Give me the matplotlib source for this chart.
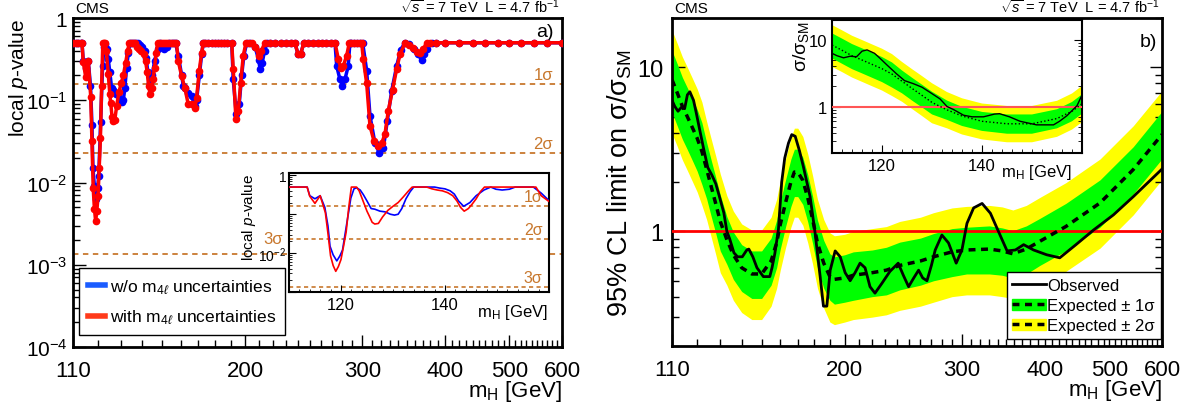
import numpy as np
import matplotlib
matplotlib.use("Agg")
import matplotlib.pyplot as plt
from matplotlib.lines import Line2D
from matplotlib.patches import Patch
from matplotlib.ticker import FixedLocator, FixedFormatter, LogLocator, NullFormatter

plt.rcParams['font.family'] = ['Liberation Sans', 'DejaVu Sans']
plt.rcParams['mathtext.fontset'] = 'custom'
plt.rcParams['mathtext.rm'] = 'Liberation Sans'
plt.rcParams['mathtext.it'] = 'Liberation Sans:italic'
plt.rcParams['mathtext.sf'] = 'Liberation Sans'

# ---- a) local p-value, with m4l uncertainties (red)
mass_red = [110, 111, 112, 113, 113.5, 114, 115, 116, 117, 117.5, 118, 118.5, 119, 119.5, 120,
            120.5, 121, 121.5, 122, 122.5, 123, 123.5, 124.3, 125, 125.4, 126, 126.5, 127.2, 128,
            129, 130, 131, 132, 133, 133.7, 134.5, 135.5, 136.5, 137.5, 138.5, 139.5, 140.5, 141.5,
            142.3, 143, 143.7, 144.5, 145.2, 146, 146.8, 147.6, 149, 150, 151, 152, 153, 154, 155,
            156, 157.5, 158.5, 160.4, 162.2, 164.1, 166, 168, 168.9, 170.5, 171.9, 172.9, 174, 176,
            178, 180, 182, 184, 186, 188, 190.8, 191.8, 193.6, 195.2, 196.8, 198.6, 200.5, 202.5,
            204.5, 207, 209.5, 211.5, 214, 218, 222, 226, 230, 234, 237.5, 240, 242.5, 245, 249,
            253, 257, 261, 265, 269, 273, 276.1, 278.4, 280.9, 284.3, 286.9, 289, 292, 295, 298,
            299.5, 301.1, 304.7, 308.2, 312.5, 317.2, 321, 324.7, 328.4, 333.4, 338.1, 342, 348,
            353, 358, 363, 366.6, 371, 375, 380, 388, 400, 420, 440, 460, 480, 500, 520, 545, 570,
            600]
p_red = [0.5, 0.5, 0.5, 0.5, 0.5, 0.29, 0.19, 0.30, 0.11, 0.032, 0.0085, 0.0048, 0.0034, 0.0045, 0.0068,
         0.015, 0.035, 0.15, 0.5, 0.5, 0.5, 0.40, 0.21, 0.12, 0.093, 0.062, 0.056, 0.058, 0.085,
         0.125, 0.16, 0.20, 0.28, 0.40, 0.5, 0.5, 0.5, 0.5, 0.45, 0.42, 0.40, 0.36, 0.30,
         0.22, 0.15, 0.12, 0.14, 0.18, 0.25, 0.38, 0.5, 0.5, 0.5, 0.5, 0.5, 0.5, 0.5, 0.5,
         0.5, 0.5, 0.30, 0.195, 0.14, 0.089, 0.089, 0.081, 0.107, 0.23, 0.38, 0.5, 0.5, 0.5,
         0.5, 0.5, 0.5, 0.5, 0.5, 0.5, 0.5, 0.24, 0.059, 0.074, 0.16, 0.35, 0.5, 0.5,
         0.5, 0.45, 0.35, 0.40, 0.5, 0.5, 0.5, 0.5, 0.5, 0.5, 0.5, 0.37, 0.37, 0.5, 0.5,
         0.5, 0.5, 0.5, 0.5, 0.5, 0.5, 0.32, 0.25, 0.26, 0.35, 0.5, 0.5, 0.5, 0.5, 0.5,
         0.5, 0.32, 0.16, 0.049, 0.032, 0.028, 0.030, 0.039, 0.074, 0.135, 0.24, 0.36, 0.5,
         0.47, 0.43, 0.39, 0.38, 0.42, 0.5, 0.5, 0.5, 0.5, 0.5, 0.5, 0.5, 0.5, 0.5, 0.5, 0.5, 0.5,
         0.5]

# ---- a) local p-value, without m4l uncertainties (blue)
mass_blue = [110, 111, 112, 113, 113.5, 114, 115, 116, 116.9, 117.5, 117.9, 118.5, 119.2, 119.8,
             120.3, 121.1, 121.9, 122.5, 123, 123.7, 124.3, 125, 125.8, 126.5, 127.5, 128.5, 129.5,
             130.3, 131, 131.7, 132.5, 133.3, 134, 135, 136, 137, 138, 139, 140, 141, 141.8, 142.6,
             143.6, 144.8, 146, 147.5, 148.8, 149.8, 151, 152.4, 153.5, 155, 156, 157, 158.5, 160.4,
             161.3, 162.2, 164.1, 166, 168, 168.9, 170.5, 171.9, 172.9, 174, 176, 178, 180, 182, 184,
             186, 188, 190.8, 191.8, 193.8, 195.8, 197.5, 199, 201, 203.3, 206.8, 209.5, 210.5, 212,
             213.8, 215.5, 218, 222, 226, 230, 234, 237.5, 240, 242.5, 245, 249, 253, 257, 261, 265,
             269, 273, 274.6, 277.7, 280, 282.6, 285.8, 287.5, 289, 292, 295, 298, 300.5, 304.7,
             308.2, 313.6, 318.3, 322.8, 327.3, 332.3, 338.1, 342.8, 348, 353, 359.5, 364, 368.8,
             372, 375.2, 381.7, 388, 400, 420, 440, 460, 480, 500, 520, 545, 570, 600]
p_blue = [0.5, 0.5, 0.5, 0.5, 0.5, 0.30, 0.25, 0.30, 0.15, 0.05, 0.015, 0.009, 0.0063, 0.0085,
          0.012, 0.055, 0.26, 0.45, 0.48, 0.42, 0.32, 0.22, 0.14, 0.135, 0.12, 0.115, 0.10,
          0.095, 0.10, 0.14, 0.25, 0.38, 0.5, 0.5, 0.5, 0.5, 0.5, 0.47, 0.45, 0.40, 0.33, 0.22,
          0.16, 0.20, 0.30, 0.42, 0.5, 0.44, 0.42, 0.44, 0.5, 0.5, 0.5, 0.5, 0.35, 0.20,
          0.15, 0.14, 0.123, 0.112, 0.085, 0.10, 0.20, 0.36, 0.5, 0.5, 0.5, 0.5, 0.5, 0.5, 0.5,
          0.5, 0.5, 0.5, 0.18, 0.068, 0.089, 0.20, 0.35, 0.5, 0.5, 0.45, 0.31, 0.24, 0.28,
          0.40, 0.5, 0.5, 0.5, 0.5, 0.5, 0.5, 0.5, 0.37, 0.37, 0.5, 0.5, 0.5, 0.5, 0.5, 0.5,
          0.5, 0.5, 0.26, 0.18, 0.15, 0.18, 0.26, 0.5, 0.5, 0.5, 0.5, 0.5, 0.5, 0.23,
          0.065, 0.030, 0.023, 0.026, 0.056, 0.13, 0.26, 0.41, 0.5, 0.48, 0.42, 0.36, 0.31,
          0.36, 0.42, 0.5, 0.5, 0.5, 0.5, 0.5, 0.5, 0.5, 0.5, 0.5, 0.5, 0.5, 0.5]

sigma_p = [0.1587, 0.02275, 0.00135]
sigma_names = ['1σ', '2σ', '3σ']

# ---- b) 95% CL limits on sigma/sigma_SM
mass_exp = [110, 112, 114, 116, 118, 120, 122, 124, 126, 128, 130, 133, 136, 140, 145, 150, 155,
            158, 160, 163, 166, 168, 170, 173, 176, 179, 182, 186, 190, 193, 200, 206, 220, 231,
            242, 260, 272, 290, 305, 330, 345, 358, 375, 393, 430, 484, 543, 600]
exp_median = [8.4, 7.0, 5.8, 5.0, 4.3, 3.7, 3.07, 2.4, 1.87, 1.47, 1.15, 0.89, 0.72, 0.60, 0.55, 0.55, 0.66,
              0.85, 1.1, 1.5, 2.0, 2.3, 2.3, 2.05, 1.6, 1.18, 0.85, 0.64, 0.53, 0.51, 0.52, 0.54, 0.56, 0.58,
              0.62, 0.66, 0.70, 0.75, 0.77, 0.78, 0.76, 0.73, 0.78, 0.87, 1.07, 1.49, 2.38, 3.9]
exp_up2 = [16.8, 14.0, 11.6, 10.0, 8.6, 7.4, 6.14, 4.68, 3.65, 2.87, 2.24, 1.65, 1.33, 1.11, 1.02, 1.02, 1.22,
           1.57, 2.04, 2.78, 3.7, 4.26, 4.26, 3.79, 2.96, 2.18, 1.57, 1.18, 0.98, 0.94, 0.96, 1.0, 1.04, 1.07,
           1.15, 1.22, 1.30, 1.39, 1.42, 1.44, 1.41, 1.35, 1.44, 1.61, 1.98, 2.76, 4.40, 7.2]
exp_up1 = [12.6, 10.5, 8.7, 7.5, 6.45, 5.55, 4.6, 3.48, 2.71, 2.13, 1.67, 1.23, 0.99, 0.83, 0.76, 0.76, 0.91,
           1.17, 1.52, 2.07, 2.76, 3.17, 3.17, 2.83, 2.21, 1.63, 1.17, 0.88, 0.73, 0.70, 0.72, 0.75, 0.77, 0.80,
           0.86, 0.91, 0.97, 1.04, 1.06, 1.08, 1.05, 1.01, 1.08, 1.20, 1.48, 2.06, 3.28, 5.4]
exp_dn1 = [5.3, 4.4, 3.65, 3.15, 2.71, 2.33, 1.93, 1.58, 1.23, 0.97, 0.76, 0.63, 0.51, 0.43, 0.39, 0.39, 0.47,
           0.60, 0.78, 1.07, 1.42, 1.63, 1.63, 1.46, 1.14, 0.84, 0.60, 0.45, 0.38, 0.36, 0.37, 0.38, 0.40, 0.41,
           0.44, 0.47, 0.50, 0.53, 0.55, 0.55, 0.54, 0.52, 0.55, 0.62, 0.76, 1.06, 1.69, 2.77]
exp_dn2 = [3.95, 3.3, 2.73, 2.35, 2.02, 1.74, 1.44, 1.18, 0.92, 0.72, 0.56, 0.47, 0.38, 0.32, 0.29, 0.29, 0.35,
           0.45, 0.58, 0.80, 1.06, 1.22, 1.22, 1.09, 0.85, 0.63, 0.45, 0.34, 0.28, 0.27, 0.28, 0.29, 0.30, 0.31,
           0.33, 0.35, 0.37, 0.40, 0.41, 0.41, 0.40, 0.39, 0.41, 0.46, 0.57, 0.79, 1.26, 2.07]

mass_obs = [110, 111, 112.3, 113.6, 114.9, 116, 117, 118.5, 119.6, 121, 122.9, 124.5, 126.3, 128, 129.5,
            131.6, 133, 134.3, 136.3, 138, 140.3, 142.5, 143.5, 145.5, 147.6, 150.9, 154.3, 155.5, 157,
            159, 160.8, 162.5, 164.6, 166.5, 168.5, 171, 173.3, 177.4, 180.5, 183.7, 185.8, 188, 190.2,
            193.5, 196.9, 200.3, 203.8, 207.3, 210.9, 214.6, 218.3, 222.1, 227.3, 233.9, 240.7, 245,
            249.5, 254, 258.3, 262, 265.9, 270, 273.6, 280, 286.5, 294.2, 300.1, 305.4, 312.5, 321.8,
            331.2, 340.9, 350.9, 361.1, 371.6, 384.6, 402.5, 421.1, 445.4, 473.4, 507, 543.3, 600]
obs_limit = [6.3, 5.8, 5.4, 5.7, 5.6, 6.8, 7.1, 6.3, 5.3, 4.2, 3.1, 2.45, 2.2, 1.95, 1.65,
             1.3, 1.0, 0.9, 0.74, 0.70, 0.70, 0.77, 0.78, 0.70, 0.60, 0.53, 0.53, 0.60, 0.73,
             1.03, 2.0, 2.8, 3.45, 3.89, 3.8, 3.1, 2.49, 1.63, 0.98, 0.53, 0.35, 0.35, 0.58,
             0.76, 0.70, 0.56, 0.50, 0.56, 0.64, 0.60, 0.46, 0.42, 0.48, 0.57, 0.64, 0.54,
             0.46, 0.52, 0.58, 0.52, 0.50, 0.62, 0.77, 0.95, 0.85, 0.64, 0.77, 1.12, 1.39, 1.48,
             1.29, 0.99, 0.76, 0.77, 0.83, 0.77, 0.72, 0.69, 0.83, 1.02, 1.26, 1.63, 2.4]

x_major = [110, 200, 300, 400, 500, 600]
x_minor = [m for m in range(120, 600, 10) if m % 100 != 0]
brown = '#c8782e'
energy_txt = r'$\sqrt{s}$ = 7 TeV  L = 4.7 fb$^{-1}$'


def style_main(ax, right=False):
    ax.set_xscale('log')
    ax.set_yscale('log')
    ax.set_xlim(110, 600)
    ax.xaxis.set_major_locator(FixedLocator(x_major))
    ax.xaxis.set_major_formatter(FixedFormatter([str(v) for v in x_major]))
    ax.xaxis.set_minor_locator(FixedLocator(x_minor))
    ax.xaxis.set_minor_formatter(NullFormatter())
    ax.yaxis.set_minor_locator(LogLocator(subs=np.arange(2, 10)))
    ax.yaxis.set_minor_formatter(NullFormatter())
    ax.tick_params(which='both', direction='in', top=False, right=right)
    ax.tick_params(which='major', length=9, width=1)
    ax.tick_params(which='minor', length=5, width=1)
    ax.tick_params(axis='x', labelsize=16, pad=9)
    ax.tick_params(axis='y', labelsize=15, pad=4)
    for s in ax.spines.values():
        s.set_linewidth(2)


fig = plt.figure(figsize=(11.96, 4.14), dpi=100)

# ================= panel a =================
axa = fig.add_axes([0.0610, 0.1594, 0.4089, 0.7947])
style_main(axa)
axa.set_ylim(1e-4, 1)
axa.set_yticks([1e-4, 1e-3, 1e-2, 1e-1, 1])
axa.set_yticklabels([r'$10^{-4}$', r'$10^{-3}$', r'$10^{-2}$', r'$10^{-1}$', '1'])
for ps in sigma_p:
    axa.axhline(ps, color=brown, lw=1.3, ls=(0, (3, 2.5)), zorder=1)
axa.text(0.982, sigma_p[0] * 1.05, sigma_names[0], transform=axa.get_yaxis_transform(),
         ha='right', va='bottom', color=brown, fontsize=12)
axa.text(0.982, sigma_p[1] * 1.05, sigma_names[1], transform=axa.get_yaxis_transform(),
         ha='right', va='bottom', color=brown, fontsize=12)
axa.text(0.43, sigma_p[2] * 1.25, sigma_names[2], transform=axa.get_yaxis_transform(),
         ha='right', va='bottom', color=brown, fontsize=12)
axa.plot(mass_blue, p_blue, color='blue', lw=2.5, marker='o', ms=4.5, zorder=3)
axa.plot(mass_red, p_red, color='red', lw=2.5, marker='o', ms=4.5, zorder=4)
axa.set_ylabel(r'local $p$-value', fontsize=15, loc='top')
axa.yaxis.set_label_coords(-0.088, 1.0)
axa.set_xlabel(r'm$_\mathrm{H}$ [GeV]', fontsize=16, loc='right')
axa.xaxis.set_label_coords(1.0, -0.095)
axa.text(0.004, 1.008, 'CMS', transform=axa.transAxes, fontsize=11, ha='left', va='bottom')
axa.text(0.995, 1.008, energy_txt, transform=axa.transAxes, fontsize=10.5, ha='right', va='bottom')
axa.text(0.982, 0.985, 'a)', transform=axa.transAxes, fontsize=14, ha='right', va='top')
hand_a = [Line2D([], [], color='#1a5cff', lw=4), Line2D([], [], color='#ff3a1a', lw=4)]
leg_a = axa.legend(hand_a, [r'w/o m$_{4\ell}$ uncertainties', r'with m$_{4\ell}$ uncertainties'],
                   loc='lower left', bbox_to_anchor=(0.012, 0.036), borderaxespad=0,
                   fontsize=12.5, handlelength=1.0, handletextpad=0.3, labelspacing=0.7,
                   fancybox=False, edgecolor='black', framealpha=1, borderpad=0.5)
leg_a.get_frame().set_linewidth(1)

# inset a
ins_a = fig.add_axes([0.2416, 0.2923, 0.2174, 0.2874])
ins_a.set_yscale('log')
ins_a.set_xlim(110, 160)
ins_a.set_ylim(1.1e-3, 1.15)
for ps, nm in zip(sigma_p, sigma_names):
    ins_a.axhline(ps, color=brown, lw=1.2, ls=(0, (2.5, 2)), zorder=1)
    ins_a.text(0.975, ps * 1.15, nm, transform=ins_a.get_yaxis_transform(), ha='right',
               va='bottom', color=brown, fontsize=11.5)
ins_a.plot(mass_blue, p_blue, color='blue', lw=1.2, zorder=3)
ins_a.plot(mass_red, p_red, color='red', lw=1.2, zorder=4)
ins_a.set_xticks([120, 140])
ins_a.set_xticks(np.arange(110, 161, 2), minor=True)
ins_a.set_yticks([1e-3, 1e-2, 1e-1, 1])
ins_a.set_yticklabels(['', r'$10^{-2}$', '', '1'])
ins_a.yaxis.set_minor_locator(LogLocator(subs=np.arange(2, 10)))
ins_a.yaxis.set_minor_formatter(NullFormatter())
ins_a.tick_params(which='both', direction='in', labelsize=12)
ins_a.tick_params(which='major', length=5)
ins_a.tick_params(which='minor', length=2.5)
ins_a.tick_params(axis='y', labelsize=10, pad=2)
for s in ins_a.spines.values():
    s.set_linewidth(1.5)
ins_a.set_ylabel(r'local $p$-value', fontsize=11, loc='top')
ins_a.yaxis.set_label_coords(-0.12, 1.0)
ins_a.set_xlabel(r'm$_\mathrm{H}$ [GeV]', fontsize=12, loc='right')
ins_a.xaxis.set_label_coords(0.996, -0.08)

# ================= panel b =================
axb = fig.add_axes([0.5619, 0.1618, 0.4097, 0.7923])
style_main(axb, right=True)
axb.set_ylim(0.2, 20)
axb.set_yticks([1, 10])
axb.set_yticklabels(['1', '10'])
axb.fill_between(mass_exp, exp_dn2, exp_up2, color='#ffff00', lw=0, zorder=1)
axb.fill_between(mass_exp, exp_dn1, exp_up1, color='#00ff00', lw=0, zorder=2)
axb.axhline(1, color='red', lw=2, zorder=3)
axb.plot(mass_exp, exp_median, color='black', lw=2.5, ls=(0, (2, 1.6)), zorder=4)
axb.plot(mass_obs, obs_limit, color='black', lw=2, zorder=5)
axb.tick_params(axis='y', labelsize=17, pad=6)
axb.set_ylabel('95% CL limit on σ/σ$_{\\mathrm{SM}}$', fontsize=19.5)
axb.yaxis.set_label_coords(-0.078, 0.5)
axb.set_xlabel(r'm$_\mathrm{H}$ [GeV]', fontsize=16, loc='right')
axb.xaxis.set_label_coords(1.0, -0.095)
axb.text(0.004, 1.008, 'CMS', transform=axb.transAxes, fontsize=11, ha='left', va='bottom')
axb.text(0.995, 1.008, energy_txt, transform=axb.transAxes, fontsize=10.5, ha='right', va='bottom')
axb.text(0.99, 0.955, 'b)', transform=axb.transAxes, fontsize=14, ha='right', va='top')
hand_b = [Line2D([], [], color='black', lw=2),
          (Patch(color='#00ff00'), Line2D([], [], color='black', lw=2.5, ls=(0, (2, 1.6)))),
          (Patch(color='#ffff00'), Line2D([], [], color='black', lw=2.5, ls=(0, (2, 1.6))))]
leg_b = axb.legend(hand_b, ['Observed', 'Expected ± 1σ', 'Expected ± 2σ'],
                   loc='lower right', bbox_to_anchor=(0.998, 0.021), borderaxespad=0,
                   fontsize=12, handlelength=2.0, handletextpad=0.1, labelspacing=0.3,
                   fancybox=False, edgecolor='black', framealpha=1, borderpad=0.35)
leg_b.get_frame().set_linewidth(1)

# inset b
ins_b = fig.add_axes([0.6957, 0.6280, 0.2090, 0.3213])
ins_b.set_yscale('log')
ins_b.set_xlim(110, 160)
ins_b.set_ylim(0.2, 20)
ins_b.fill_between(mass_exp, exp_dn2, exp_up2, color='#ffff00', lw=0, zorder=1)
ins_b.fill_between(mass_exp, exp_dn1, exp_up1, color='#00ff00', lw=0, zorder=2)
ins_b.axhline(1, color='#ff5555', lw=1.5, zorder=3)
ins_b.plot(mass_exp, exp_median, color='black', lw=1, ls=':', zorder=4)
ins_b.plot(mass_obs, obs_limit, color='black', lw=1, zorder=5)
ins_b.set_xticks([120, 140])
ins_b.set_xticks(np.arange(110, 161, 2), minor=True)
ins_b.set_yticks([1, 10])
ins_b.set_yticklabels(['1', '10'])
ins_b.yaxis.set_minor_locator(LogLocator(subs=np.arange(2, 10)))
ins_b.yaxis.set_minor_formatter(NullFormatter())
ins_b.tick_params(which='both', direction='in', right=True, labelsize=12)
ins_b.tick_params(which='major', length=6)
ins_b.tick_params(which='minor', length=3)
for s in ins_b.spines.values():
    s.set_linewidth(1.5)
ins_b.set_ylabel(r'σ/σ$_{\mathrm{SM}}$', fontsize=14, loc='top')
ins_b.yaxis.set_label_coords(-0.085, 1.0)
ins_b.set_xlabel(r'm$_\mathrm{H}$ [GeV]', fontsize=12, loc='right')
ins_b.xaxis.set_label_coords(0.96, -0.065)

fig.savefig('out.png', dpi=100)
